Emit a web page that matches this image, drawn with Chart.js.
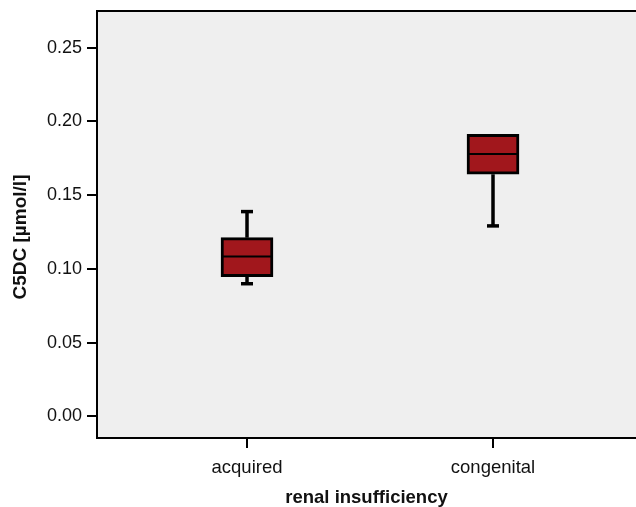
<!DOCTYPE html>
<html><head><meta charset="utf-8">
<script src="https://cdn.jsdelivr.net/npm/chart.js@4"></script>
<style>html,body{margin:0;padding:0;background:#fff}</style>
</head><body>
<canvas id="c" width="636" height="507"></canvas>
<script>
const categories = ['acquired', 'congenital'];
const whiskerMin = [0.0900, 0.1292];
const q1 = [0.0948, 0.1642];
const median = [0.1084, 0.1780];
const q3 = [0.1212, 0.1913];
const whiskerMax = [0.1389, 0.1913];
const yTicks = [0, 0.05, 0.10, 0.15, 0.20, 0.25];
const xTitle = 'renal insufficiency';
const yTitle = 'C5DC [µmol/l]';

const FONT = '"Liberation Sans", Arial, Helvetica, sans-serif';

const framePlugin = {
  id: 'frame',
  beforeDraw(chart) {
    const {ctx, chartArea: a} = chart;
    ctx.save();
    ctx.fillStyle = '#efefef';
    ctx.fillRect(a.left, a.top, a.right - a.left, a.bottom - a.top);
    ctx.restore();
  },
  afterDatasetsDraw(chart) {
    const {ctx} = chart;
    const xs = chart.scales.x, ys = chart.scales.y;
    ctx.save();
    ctx.strokeStyle = '#000';
    categories.forEach((c, i) => {
      const cx = xs.getPixelForValue(i + 1);
      const yq1 = ys.getPixelForValue(q1[i]);
      const yq3 = ys.getPixelForValue(q3[i]);
      const ymin = ys.getPixelForValue(whiskerMin[i]);
      const ymax = ys.getPixelForValue(whiskerMax[i]);
      const ymed = ys.getPixelForValue(median[i]);
      ctx.lineWidth = 3.5;
      ctx.lineCap = 'butt';
      if (ymax < yq3 - 1) {
        ctx.beginPath(); ctx.moveTo(cx, yq3); ctx.lineTo(cx, ymax); ctx.stroke();
        ctx.beginPath(); ctx.moveTo(cx - 6, ymax); ctx.lineTo(cx + 6, ymax); ctx.stroke();
      }
      if (ymin > yq1 + 1) {
        ctx.beginPath(); ctx.moveTo(cx, yq1); ctx.lineTo(cx, ymin); ctx.stroke();
        ctx.beginPath(); ctx.moveTo(cx - 6, ymin); ctx.lineTo(cx + 6, ymin); ctx.stroke();
      }
      ctx.lineWidth = 2;
      ctx.beginPath(); ctx.moveTo(cx - 24, ymed); ctx.lineTo(cx + 24, ymed); ctx.stroke();
    });
    ctx.restore();
  },
  afterDraw(chart) {
    const {ctx, chartArea: a} = chart;
    ctx.save();
    ctx.strokeStyle = '#000';
    ctx.lineWidth = 2;
    ctx.beginPath();
    ctx.moveTo(a.right + 2, a.top);
    ctx.lineTo(a.left, a.top);
    ctx.lineTo(a.left, a.bottom);
    ctx.lineTo(a.right + 2, a.bottom);
    ctx.stroke();
    // y axis title
    ctx.translate(21, 237);
    ctx.rotate(-Math.PI / 2);
    ctx.fillStyle = '#111';
    ctx.font = 'bold 19px ' + FONT;
    ctx.textAlign = 'center';
    ctx.textBaseline = 'middle';
    ctx.fillText(yTitle, 0, 0);
    ctx.restore();
  }
};

new Chart(document.getElementById('c'), {
  type: 'bar',
  data: {
    datasets: [{
      data: categories.map((c, i) => ({x: i + 1, y: [q1[i], q3[i]]})),
      backgroundColor: '#a1171c',
      borderColor: '#000',
      borderWidth: 3,
      borderSkipped: false,
      barThickness: 52
    }]
  },
  options: {
    responsive: false,
    animation: false,
    layout: {padding: {top: 11, left: 0, right: 0, bottom: 0}},
    plugins: {legend: {display: false}, tooltip: {enabled: false}},
    scales: {
      x: {
        type: 'linear',
        offset: false,
        min: 0.3902,
        max: 2.5813,
        afterBuildTicks(s) { s.ticks = categories.map((c, i) => ({value: i + 1})); },
        afterFit(s) { s.height = 69; s.paddingLeft = 0; s.paddingRight = 0; },
        grid: {offset: false, drawOnChartArea: false, tickLength: 10, color: '#000', lineWidth: 2},
        border: {display: false},
        ticks: {
          callback: (v) => categories[v - 1],
          color: '#111', padding: 9, maxRotation: 0,
          font: {family: FONT, size: 18.5}
        },
        title: {
          display: true, text: xTitle, color: '#111',
          font: {family: FONT, size: 18.5, weight: 'bold'},
          padding: {top: 0, bottom: -2}
        }
      },
      y: {
        type: 'linear',
        min: -0.0146,
        max: 0.2749,
        afterBuildTicks(s) { s.ticks = yTicks.map(v => ({value: v})); },
        afterFit(s) { s.width = 97; s.paddingTop = 0; s.paddingBottom = 0; },
        grid: {drawOnChartArea: false, tickLength: 10, color: '#000', lineWidth: 2},
        border: {display: false},
        ticks: {
          callback: (v) => v.toFixed(2),
          color: '#111', padding: 5,
          font: {family: FONT, size: 18}
        },
        title: {display: false}
      }
    }
  },
  plugins: [framePlugin]
});
</script>
</body></html>
